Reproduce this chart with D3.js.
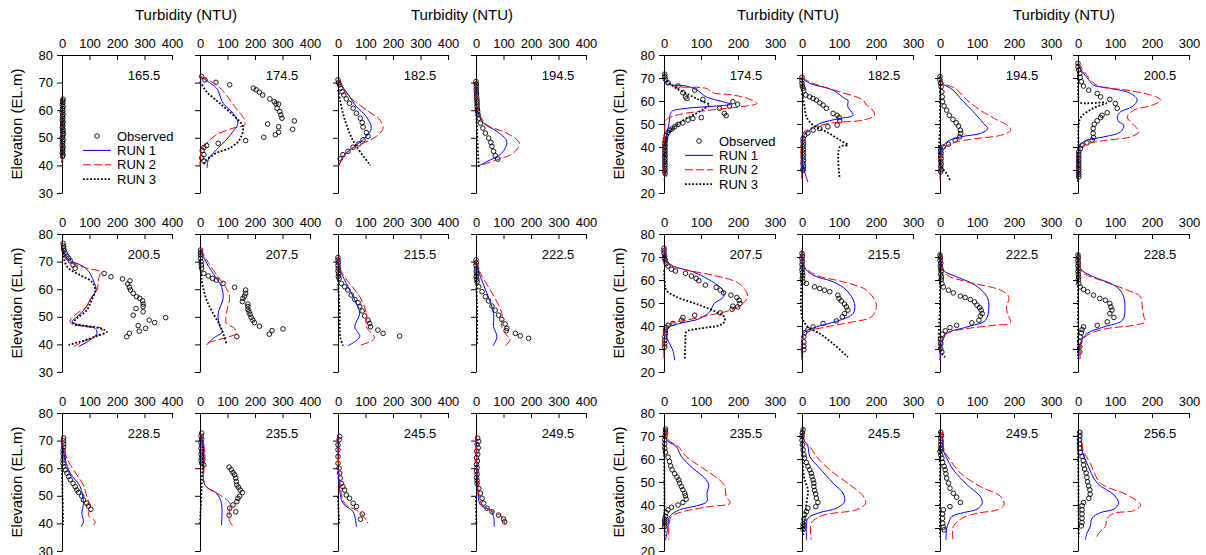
<!DOCTYPE html>
<html>
<head>
<meta charset="utf-8">
<script src="https://cdn.jsdelivr.net/npm/d3@7"></script>
<style>
  body { margin: 0; background: #fff; }
  svg { font-family: "Liberation Sans", Arial, sans-serif; }
</style>
</head>
<body>
<div id="chart"></div>
<script>
// ---------- Data: [turbidity NTU, elevation EL.m] ----------
// Left group (0-400 NTU, EL 30-80)
const obs_L165 = [[2,43.2],[4,43.8],[1,44.5],[3,45.2],[2,45.9],[4,46.6],[1,47.3],[3,48],[2,48.7],[4,49.4],[1,50.1],[3,50.8],[5,51.5],[2,52.2],[4,52.9],[1,53.6],[3,54.3],[2,55],[4,55.7],[1,56.4],[3,57.1],[2,57.8],[4,58.5],[1,59.2],[3,59.9],[2,60.6],[4,61.3],[1,62],[3,62.7],[2,63.4],[4,64]];
const run1_L165 = [[1,64],[2,58],[1,52],[2,47],[1,42]];
const run2_L165 = [[0,64],[1,56],[0,48],[1,43],[0,39.4]];
const run3_L165 = [[0,64],[1,55],[0,46],[1,41]];

const obs_L174 = [[6,72.2],[18,71],[58,70.1],[108,69.2],[194,68],[204,67.4],[216,66.5],[228,65.5],[254,64.1],[270,63.1],[276,62.3],[286,62.2],[280,60.7],[290,59.5],[294,58.3],[298,57.1],[343,56.1],[246,55],[286,54],[337,53.1],[286,52],[274,51.1],[232,50.2],[166,49],[66,48],[24,47.2],[14,46.5],[8,45.4],[14,43.9],[6,42.7],[14,41.6]];
const run1_L174 = [[0,72.2],[60,68],[72,65.5],[84,62.5],[120,58.9],[138,55.3],[120,52.3],[96,49.3],[60,45.7],[30,42],[26,39]];
const run2_L174 = [[0,72.4],[60,69.2],[96,65.5],[126,61.3],[162,56.5],[162,54.7],[120,53.5],[60,51.1],[24,48],[6,45.7],[0,42],[0,39.6]];
const run3_L174 = [[0,70.4],[24,66.7],[72,62.5],[132,57.1],[156,54.1],[144,49.3],[108,46.3],[60,44.5],[24,42],[12,40.2]];

const obs_L182 = [[0,71],[2,70],[6,69.2],[10,68],[15,66.7],[21,65.5],[30,64.1],[42,62.5],[55,60.7],[67,58.9],[81,57.1],[88,55.5],[91,53.9],[103,51.9],[109,50.5],[91,49.3],[76,47.8],[55,46.6],[36,45.1],[18,43.9],[8,42.4]];
const run1_L182 = [[0,70.4],[30,66.7],[67,61.3],[103,57.7],[121,53.5],[103,50.5],[61,46.9],[24,43.9],[2,39.6]];
const run2_L182 = [[0,71],[42,64.9],[103,60.1],[152,56.5],[164,53.5],[139,50.5],[91,48],[42,45.7],[18,42.6],[0,39.6]];
const run3_L182 = [[0,67.4],[18,58.9],[42,51.7],[67,46.9],[118,40]];

const obs_L194 = [[0,70.4],[1,69.5],[1,68.6],[1,67.6],[1,66.7],[2,65.8],[2,64.9],[3,64],[4,63.1],[4,62.2],[4,61.3],[5,60.4],[6,59.5],[8,58.3],[10,57.1],[16,55.3],[25,53.5],[34,51.7],[46,49.9],[54,48.3],[58,46.9],[64,45.1],[70,43.5],[79,42.3]];
const run1_L194 = [[0,70.4],[4,60.1],[28,55.3],[76,52.3],[112,48.7],[94,44.5],[40,41.4],[4,39.6]];
const run2_L194 = [[0,70.4],[6,60.1],[40,54.7],[112,51.7],[158,48],[136,44.5],[76,42],[16,40],[4,39.6]];
const run3_L194 = [[0,63.7],[4,51.7],[10,39.6]];

const obs_L200 = [[4,76.6],[6,75.6],[6,74.8],[8,74],[12,73],[18,72],[24,71.2],[30,70.3],[40,68.8],[48,67.6],[153,65.7],[178,64.5],[220,63.7],[247,63],[239,61.9],[245,60.7],[249,59.7],[259,58.5],[271,57.3],[283,56.7],[293,55.8],[295,54.6],[295,53.7],[269,53],[295,51.8],[259,50.6],[317,48.8],[377,49.7],[337,47.9],[277,46.8],[304,45.8],[281,44.8],[245,44],[235,42.8]];
const run1_L200 = [[0,76.6],[18,71.2],[78,68.2],[102,65.7],[118,62.1],[124,59.7],[102,56.1],[84,53],[54,50],[36,48.2],[66,47],[120,45.8],[127,44],[102,41.6],[60,39.2]];
const run2_L200 = [[0,76.6],[18,70.6],[90,67.6],[139,66.3],[133,63.9],[127,59.7],[108,57.3],[90,53.7],[54,51.2],[30,48.8],[33,47.6],[90,46.4],[145,45.8],[139,44],[90,41.6],[42,39.2]];
const run3_L200 = [[0,76],[18,68.2],[66,65.1],[108,62.7],[121,59.7],[108,56.1],[90,52.4],[54,49.4],[40,47.6],[78,46.8],[139,45.8],[163,44.6],[121,42.8],[66,41],[24,39.8]];

const obs_L207 = [[2,74.2],[2,73.2],[2,72.4],[2,71.2],[4,70],[5,68.8],[6,67.6],[14,65.7],[30,64.8],[46,63.9],[60,63.3],[84,62.1],[126,60.7],[166,59.7],[166,58.5],[162,57.5],[156,56.7],[154,55.5],[174,54.6],[174,53.7],[174,52.7],[178,51.8],[182,50.9],[186,49.8],[192,48.8],[198,47.9],[216,46.6],[302,45.6],[262,45],[252,43.7],[134,42.8]];
const run1_L207 = [[2,74.8],[18,70.6],[48,65.7],[78,60.9],[84,56.7],[66,51.2],[72,46.4],[82,44.6],[48,42.2],[24,39.8]];
const run2_L207 = [[2,74.8],[24,70.6],[66,64.5],[96,60.3],[108,57.3],[96,51.2],[96,47.6],[126,45.8],[132,44],[84,42.2],[30,40.4],[24,39.2]];
const run3_L207 = [[0,70.6],[6,63.3],[24,56.1],[48,51.2],[72,47],[84,44],[96,40.4]];

const obs_L215 = [[0,71.5],[0,70.6],[1,69.6],[0,68.6],[1,67.6],[0,66.6],[2,65.6],[1,64.6],[4,63.9],[12,62.1],[24,60.9],[36,59.7],[48,57.9],[61,56.3],[73,55.1],[79,53.7],[88,52.1],[97,50.3],[109,48.8],[115,47.6],[118,46.4],[145,45.2],[164,44],[224,43]];
const run1_L215 = [[0,71.5],[6,67.6],[30,62.1],[61,56.1],[79,51.2],[61,46.4],[79,42.8],[36,39.5]];
const run2_L215 = [[0,71.5],[12,66.3],[42,62.1],[79,57.3],[103,51.2],[103,46.4],[133,42.2],[73,39.5]];
const run3_L215 = [[0,63.3],[6,51.2],[8,42.8],[18,39.5]];

const obs_L222 = [[0,70.6],[1,69.6],[0,68.6],[2,67.6],[1,66.6],[2,65.6],[1,64.6],[3,63.6],[4,62.7],[10,60.9],[22,59.1],[34,57.3],[46,55.7],[58,53.9],[70,52.4],[82,50.6],[94,49],[106,47.4],[112,45.8],[110,45],[143,44],[161,43.1],[191,42.2]];
const run1_L222 = [[0,70.6],[16,64.5],[40,58.5],[64,51.2],[64,46.4],[76,42.8],[62,39.5]];
const run2_L222 = [[0,70.6],[16,65.7],[52,59.7],[94,51.2],[94,46.4],[106,44],[124,41.6],[106,39.5]];
const run3_L222 = [[0,65.7],[4,51.2],[4,39.5]];

const obs_L228 = [[6,70.9],[6,69.9],[6,68.8],[6,67.6],[4,66.4],[4,65.2],[6,64],[4,63],[4,61.8],[6,60.6],[12,59.4],[18,58.2],[24,57],[30,55.8],[40,54.5],[48,53.3],[54,52.1],[60,51.2],[72,49.9],[78,48.5],[90,47.3],[96,46.3],[105,45.1]];
const run1_L228 = [[0,70.3],[12,63],[30,58.2],[66,53.3],[78,47.3],[72,43.6],[78,40.6],[69,38.8]];
const run2_L228 = [[0,70.3],[18,63.6],[54,57.6],[78,53.9],[90,49.7],[102,46.1],[96,43],[121,40.6],[114,39.4]];
const run3_L228 = [[0,59.4],[2,50],[4,39.4]];

const obs_L235 = [[6,72.7],[4,71.6],[6,70.5],[4,69.4],[6,68.3],[4,67.2],[6,66.1],[4,65],[6,63.9],[4,62.8],[6,61.8],[14,61.2],[106,60.4],[114,59.4],[120,58.4],[126,57.6],[130,56.4],[132,55.2],[134,53.9],[140,53.1],[146,52.1],[154,51.2],[144,49.9],[138,49.1],[134,47.9],[120,46.7],[108,45.5],[130,44.2],[106,43]];
const run1_L235 = [[2,72.7],[14,65.5],[18,53.9],[60,50.9],[78,47.3],[78,39.4]];
const run2_L235 = [[2,72.7],[18,65.5],[18,53.9],[72,50.3],[108,47.3],[108,44.8],[106,41.2],[120,39]];
const run3_L235 = [[12,67.9],[6,53.3],[0,39.4]];

const obs_L245 = [[6,71.5],[4,70.3],[0,68.5],[0,66.7],[0,64.2],[0,61.8],[4,60],[6,58.2],[8,56.4],[12,54.5],[18,53.3],[24,52.1],[30,50.3],[42,49.1],[55,47.3],[67,46.1],[88,43.4],[82,41.5]];
const run1_L245 = [[0,72],[4,54.5],[18,47.3],[55,44.2],[67,38.8]];
const run2_L245 = [[0,72],[6,55.8],[24,47.3],[67,44.8],[85,43.6],[109,40]];
const run3_L245 = [[0,49.7],[4,39.4]];

const obs_L249 = [[6,70.9],[10,69.7],[4,68.6],[8,67.4],[3,66.2],[6,65],[2,63.8],[5,62.6],[2,61.4],[4,60.2],[2,59],[4,57.8],[2,56.6],[4,55.5],[4,54.5],[10,52.7],[16,50.9],[22,49.1],[28,47.3],[40,45.5],[58,44.2],[82,43],[100,41.6],[104,40.6]];
const run1_L249 = [[0,72],[6,54.5],[16,46.7],[52,44.8],[64,42.4],[66,38.8]];
const run2_L249 = [[0,72],[6,55.8],[22,46.7],[64,44.2],[94,42.4],[106,39.4]];
const run3_L249 = [[0,49.7],[1,39.4]];

// Right group (0-300 NTU, EL 20-80)
const obs_R174 = [[2,71.7],[2,70.6],[4,69.4],[11,67.9],[38,66.5],[83,64.7],[51,63.6],[58,61.8],[62,61.1],[105,60.7],[186,59.7],[199,58.6],[177,57.8],[150,56.8],[163,54.6],[168,53.6],[101,52.8],[78,52.4],[65,51.7],[51,50.5],[38,49.8],[29,48.8],[22,47.9],[15,47.3],[11,46.3],[6,45.1],[4,43.7],[3,42.5],[2,41.5],[3,40.5],[2,39.5],[3,38.5],[2,37.5],[3,36.5],[2,35.5],[3,34.5],[2,33.5],[3,32.5],[2,31.5],[3,30.5],[2,29.5],[3,28.5]];
const run1_R174 = [[0,70.6],[6,67.7],[60,66.5],[87,65],[114,61.8],[159,59.7],[181,58.6],[141,57.8],[60,56.8],[20,55.3],[15,51.7],[11,48],[4,42.9],[2,31.3],[6,27]];
const run2_R174 = [[0,71],[20,66.9],[114,65.5],[132,63.6],[186,62.6],[226,61.1],[251,58.9],[222,57.8],[123,56],[33,53.8],[6,51.7],[2,45.9],[0,25.5]];
const run3_R174 = [[0,70],[15,67.7],[33,65.5],[69,62.6],[96,60.4],[123,58.2],[110,56.8],[87,54.6],[60,52.4],[33,49.5],[15,46.6],[6,42.9],[2,31.3]];

const obs_R182 = [[0,70.3],[0,69.1],[0,67.7],[1,66.5],[3,65.5],[5,64.5],[10,62.6],[21,61.8],[30,61.1],[39,60.4],[48,59.2],[57,58.2],[66,56.8],[84,54.6],[95,53.8],[100,52.8],[102,51.4],[95,49.5],[70,48.8],[48,48],[30,47.3],[16,46.1],[7,45.1],[3,43.7],[3,42.5],[4,41.3],[3,40.1],[4,38.9],[3,37.7],[4,36.5],[3,35.3],[4,34.1],[3,32.9],[4,31.7],[3,30.5],[3,29.9]];
const run1_R182 = [[0,70],[21,67.7],[84,64.7],[115,61.1],[124,60.4],[124,57.5],[138,53.8],[102,52.4],[48,50.2],[21,47.3],[3,44.4],[0,34.2],[7,29.2],[16,24.8]];
const run2_R182 = [[0,70],[30,67.7],[102,64],[165,60.4],[174,58.2],[183,57.5],[196,53.8],[165,51.7],[84,50.5],[21,48],[3,45.9],[0,25.5]];
const run3_R182 = [[0,63.3],[7,57.5],[12,53.1],[30,49.5],[66,46.6],[102,43],[124,40.8],[102,40],[102,26.2]];

const obs_R194 = [[0,70.6],[0,69.1],[2,67.7],[3,66.2],[5,64],[6,61.8],[7,59.7],[11,57.8],[18,56],[25,53.8],[35,52],[44,50.5],[50,49.1],[55,47.3],[56,45.9],[53,44.4],[41,43],[23,41.2],[9,40],[2,38.6],[3,37.4],[2,36.2],[3,35],[2,33.8],[3,32.6],[2,31.4],[3,30.2],[2,29.2]];
const run1_R194 = [[0,70.6],[7,67.7],[36,64.7],[59,60.4],[86,56],[118,50.2],[129,48],[109,45.9],[55,44.4],[18,42.2],[5,39.3],[0,34.2],[0,28.4]];
const run2_R194 = [[0,70.6],[9,67.7],[41,65.5],[73,60.4],[109,56],[155,51.7],[182,49.5],[191,47.3],[164,45.1],[100,43.7],[45,42.2],[14,40],[2,35.7],[0,25.5]];
const run3_R194 = [[0,70.6],[0,50],[0,32.8],[18,28.4],[27,25.5]];

const obs_R200 = [[0,76.4],[0,74.9],[2,73.5],[5,72],[6,70.3],[9,68.4],[15,66.5],[29,64.7],[52,63.3],[61,61.8],[86,60.7],[101,58.9],[106,56.8],[79,54.9],[65,53.8],[61,52.8],[52,51.4],[44,49.9],[41,48],[41,45.9],[42,44.1],[38,43],[24,41.8],[11,40.8],[6,39.3],[2,37.9],[2,36.8],[2,35.7],[2,34.6],[2,33.5],[2,32.4],[2,31.3],[2,30.2],[2,29.2],[2,28.1],[2,27]];
const run1_R200 = [[0,76.4],[6,74.2],[33,68.4],[42,66.9],[88,65.5],[142,63.3],[160,60.4],[146,57.5],[115,55.3],[106,53.1],[111,50.9],[124,49.5],[115,46.6],[70,44.4],[24,43],[6,40.8],[0,34.2],[0,24.8]];
const run2_R200 = [[0,76.4],[11,74.2],[38,68.4],[61,66.2],[133,64.7],[196,62.6],[224,60.4],[201,58.2],[151,56],[133,53.1],[151,49.5],[165,46.6],[142,44.4],[79,43],[29,41.5],[6,39.3],[0,34.2],[0,24.8]];
const run3_R200 = [[0,76],[1,62],[3,59.5],[76,59.2],[40,56.8],[8,53],[2,50],[1,40],[0,25]];

const obs_R207 = [[0,73.8],[0,72.7],[0,71.6],[2,70.4],[2,69.4],[4,68.4],[6,67.2],[11,66.1],[20,64.7],[31,63.9],[58,62.9],[74,61.7],[87,60.7],[94,59.7],[112,57.8],[141,56.8],[152,55.6],[161,54.4],[181,53.4],[197,52.4],[203,51.2],[205,49.8],[199,48.3],[186,48.6],[184,47.3],[152,45.7],[83,44.7],[51,43.7],[47,42.5],[24,41.1],[11,40.3],[6,39.3],[4,38.2],[4,36.7],[2,35.3],[2,33.8],[2,32.3],[2,30.9]];
const run1_R207 = [[2,74.5],[6,68.7],[24,66.1],[78,63.6],[123,60],[159,55.6],[161,52.7],[136,49.8],[123,46.1],[96,43.2],[51,41.4],[15,39.6],[6,36.7],[15,32.3],[24,29.4],[29,25.1]];
const run2_R207 = [[2,74.5],[11,67.2],[51,64.7],[132,62.1],[195,59.2],[217,56.3],[226,52.7],[213,49.8],[186,47.2],[123,44.7],[60,42.5],[20,41.1],[4,38.2],[0,25.1]];
const run3_R207 = [[0,64.3],[2,59.2],[6,55.6],[33,52.7],[96,49.1],[141,46.1],[163,44],[163,41.8],[150,40.3],[96,38.9],[60,37.4],[58,33.8],[56,25.1]];

const obs_R215 = [[0,71.6],[1,70.4],[0,69.2],[1,68],[0,66.8],[1,65.6],[0,64.4],[1,63.2],[2,62],[1,60.8],[3,59.2],[12,58.5],[34,57],[48,56.3],[61,55.6],[75,54.9],[97,53.4],[100,52],[106,50.9],[115,49.5],[120,48.3],[124,46.9],[115,45.4],[109,44],[93,42.2],[57,41.1],[30,39.6],[16,38.4],[7,37],[5,35.3],[5,33.1],[5,31.2],[5,29.7]];
const run1_R215 = [[0,73],[5,65.8],[30,62.1],[84,59.2],[120,55.6],[142,49.8],[138,45.4],[102,42.5],[39,39.6],[7,37.4],[0,33.8],[0,25.1]];
const run2_R215 = [[0,73],[7,65.8],[39,62.1],[111,59.2],[174,55.6],[201,49.1],[188,44],[138,41.8],[66,39.6],[16,37.4],[0,33.8],[0,25.1]];
const run3_R215 = [[0,62.9],[0,44],[16,39.6],[48,36.7],[84,32.3],[124,26.5]];

const obs_R222 = [[0,70.9],[1,69.7],[0,68.5],[2,67.3],[1,66.1],[2,64.9],[3,63.7],[2,62.5],[4,61.3],[3,60.1],[5,58.5],[9,57],[23,55.6],[36,54.4],[55,53],[68,52.4],[82,51.5],[93,50.5],[100,49.1],[107,48],[111,46.9],[114,45.4],[109,44.3],[105,42.5],[86,41.4],[45,40.3],[27,39.3],[14,37.9],[6,36.4],[2,34.5],[2,32.3],[2,30.2],[5,28.7]];
const run1_R222 = [[2,71.6],[9,64.3],[45,61.4],[95,57.8],[127,52.7],[132,48.3],[123,42.5],[73,39.6],[18,36.7],[5,32.3],[0,25.1]];
const run2_R222 = [[2,71.6],[14,62.9],[73,59.2],[164,55.6],[186,52.7],[180,48.3],[182,45.4],[191,41.4],[145,40.3],[73,38.9],[27,37.4],[5,35.3],[0,25.1]];
const run3_R222 = [[0,71.6],[0,50],[0,29.4],[14,26.5]];

const obs_R228 = [[0,70.9],[1,69.7],[0,68.5],[1,67.3],[0,66.1],[1,64.9],[0,63.7],[1,62.5],[2,61.3],[1,60.1],[2,58.5],[6,57],[15,55.9],[26,54.9],[42,53.4],[59,52],[74,51.2],[86,49.8],[89,48.3],[92,46.9],[86,45.4],[97,43.7],[79,41.8],[52,40.3],[15,39.6],[11,38.4],[9,37],[6,35.3],[5,33.1],[5,30.9],[5,28.7]];
const run1_R228 = [[2,71.6],[6,65],[42,61.4],[97,57.8],[120,54.1],[127,48.3],[120,42.5],[70,39.6],[24,36.7],[6,32.3],[2,25.1]];
const run2_R228 = [[2,71.6],[11,63.6],[61,59.9],[133,55.6],[169,52.7],[174,47.6],[178,44],[182,41.8],[151,40.3],[79,38.9],[33,36.7],[11,33.8],[6,25.1]];
const run3_R228 = [[0,71.6],[0,50],[0,25.8]];

const obs_R235 = [[4,73],[4,71.6],[3,70.1],[2,68.4],[2,66.6],[2,64.7],[4,62.9],[11,60.8],[15,58.9],[18,57],[22,55.3],[29,53.6],[35,52.1],[40,50.9],[42,49.5],[47,48],[51,46.6],[56,45.1],[58,44],[60,42.5],[51,41.1],[38,40],[20,39],[11,37.9],[6,36.7],[4,35],[2,33.8],[2,32.8],[2,31.7],[2,30.6]];
const run1_R235 = [[6,73.5],[6,68.4],[33,65.5],[47,61.1],[78,56],[110,51.7],[121,48.8],[116,45.1],[116,41.5],[87,39.6],[42,37.9],[15,35],[11,30.6],[4,24.8]];
const run2_R235 = [[6,73.5],[11,68.4],[38,65.5],[60,61.1],[105,56],[159,49.5],[166,46.6],[168,43.7],[179,40.8],[123,39.3],[51,37.1],[20,35],[13,30.6],[13,24.8]];
const run3_R235 = [[0,72.7],[1,50],[2,26.2]];

const obs_R245 = [[3,72.7],[1,71.3],[0,69.8],[0,68.1],[1,66.2],[3,64],[5,61.8],[7,60.4],[12,58.5],[16,56.8],[21,55.3],[25,53.8],[27,52.4],[30,50.9],[32,49.5],[32,48],[34,46.3],[37,44.8],[39,43],[43,41.1],[37,39.3],[16,38.6],[12,37.1],[7,35.7],[5,33.8],[3,31.8],[3,30.6],[3,29.4]];
const run1_R245 = [[3,73.5],[5,68.4],[16,65.5],[21,61.1],[48,56],[84,49.5],[111,45.1],[115,41.5],[93,38.6],[48,36.7],[16,34.2],[12,30.6],[12,24.8]];
const run2_R245 = [[3,73.5],[7,67.7],[21,65.5],[39,61.1],[75,55.3],[129,48.8],[165,44],[172,40.8],[147,37.9],[84,36.4],[48,35],[25,32.1],[25,24.8]];
const run3_R245 = [[0,72.7],[5,52.4],[16,46.6],[12,40.8],[7,33.5],[3,26.2]];

const obs_R249 = [[2,71.6],[4,70.3],[2,69],[3,67.7],[2,66.4],[3,65.1],[2,64.2],[0,63.3],[2,61.8],[5,60.4],[7,58.5],[11,56.8],[14,55.3],[16,53.6],[18,51.7],[23,49.5],[27,47.3],[36,45.1],[45,43.4],[55,41.1],[27,39.3],[9,37.9],[7,36.1],[7,34.2],[7,32.1],[9,30.3],[11,29.2]];
const run1_R249 = [[7,72],[9,64],[18,60.4],[36,55.3],[73,48.8],[109,43.7],[114,40.8],[100,38.2],[64,36.7],[32,35],[23,32.1],[18,29.9],[16,24.8]];
const run2_R249 = [[7,72],[11,64],[27,59.7],[55,53.9],[109,48],[164,43.7],[173,40],[155,37.9],[100,36.4],[59,34.2],[36,30.6],[35,24.8]];
const run3_R249 = [[0,72],[0,50],[0,26.2]];

const obs_R256 = [[5,71.6],[5,70.1],[4,68.4],[4,66.6],[5,64.7],[6,62.9],[11,61.1],[14,59.3],[15,57.4],[18,55.6],[22,53.9],[24,52],[26,50.1],[29,48.3],[32,46.6],[33,44.7],[29,42.9],[15,41.1],[11,39.7],[11,37.9],[11,36.1],[11,34.2],[11,32.4],[9,30.9]];
const run1_R256 = [[9,72],[11,64],[24,58.2],[52,49.5],[97,44.4],[110,40.8],[97,38.2],[61,36.7],[38,34.2],[33,30.6],[24,27.7],[20,24.8]];
const run2_R256 = [[9,72],[14,64],[33,58.2],[61,49.5],[133,44.4],[169,40],[151,37.6],[97,36.4],[79,34.2],[74,30.6],[56,27.7],[47,24.8]];
const run3_R256 = [[0,72],[1,50],[2,26.2]];

// Station labels
const leftStations = ["165.5","174.5","182.5","194.5","200.5","207.5","215.5","222.5","228.5","235.5","245.5","249.5"];
const rightStations = ["174.5","182.5","194.5","200.5","207.5","215.5","222.5","228.5","235.5","245.5","249.5","256.5"];

const leftSeries = [
  [obs_L165, run1_L165, run2_L165, run3_L165],
  [obs_L174, run1_L174, run2_L174, run3_L174],
  [obs_L182, run1_L182, run2_L182, run3_L182],
  [obs_L194, run1_L194, run2_L194, run3_L194],
  [obs_L200, run1_L200, run2_L200, run3_L200],
  [obs_L207, run1_L207, run2_L207, run3_L207],
  [obs_L215, run1_L215, run2_L215, run3_L215],
  [obs_L222, run1_L222, run2_L222, run3_L222],
  [obs_L228, run1_L228, run2_L228, run3_L228],
  [obs_L235, run1_L235, run2_L235, run3_L235],
  [obs_L245, run1_L245, run2_L245, run3_L245],
  [obs_L249, run1_L249, run2_L249, run3_L249]
];
const rightSeries = [
  [obs_R174, run1_R174, run2_R174, run3_R174],
  [obs_R182, run1_R182, run2_R182, run3_R182],
  [obs_R194, run1_R194, run2_R194, run3_R194],
  [obs_R200, run1_R200, run2_R200, run3_R200],
  [obs_R207, run1_R207, run2_R207, run3_R207],
  [obs_R215, run1_R215, run2_R215, run3_R215],
  [obs_R222, run1_R222, run2_R222, run3_R222],
  [obs_R228, run1_R228, run2_R228, run3_R228],
  [obs_R235, run1_R235, run2_R235, run3_R235],
  [obs_R245, run1_R245, run2_R245, run3_R245],
  [obs_R249, run1_R249, run2_R249, run3_R249],
  [obs_R256, run1_R256, run2_R256, run3_R256]
];

const leftXTicks = [0, 100, 200, 300, 400];
const rightXTicks = [0, 100, 200, 300];
const leftYTicks = [30, 40, 50, 60, 70, 80];
const rightYTicks = [20, 30, 40, 50, 60, 70, 80];
const legendLabels = ["Observed", "RUN 1", "RUN 2", "RUN 3"];

// ---------- Layout ----------
const width = 1206;
const height = 555;
const panelW = 110;
const panelH = 138;
const rowTops = [55, 234, 413];
const leftCols = [62, 200, 338, 476];
const rightCols = [664, 802, 940, 1078];
const font = "'Liberation Sans', Arial, sans-serif";

const runStyles = [
  { color: "#0000ff", dash: null, width: 1 },
  { color: "#ff0000", dash: "8,3", width: 1 },
  { color: "#000000", dash: "1.8,1.8", width: 1.8 }
];

const svg = d3.select("#chart").append("svg")
  .attr("width", width)
  .attr("height", height);

function drawGroup(cols, xDomain, xTicks, yDomain, yTicks, stations, series, legendPos) {
  const x = d3.scaleLinear().domain(xDomain).range([0, panelW + (xDomain[1] === 300 ? 1 : 0)]);
  const y = d3.scaleLinear().domain(yDomain).range([panelH, 0]);
  const line = d3.line()
    .x((d) => x(d[0]))
    .y((d) => y(d[1]))
    .curve(d3.curveCatmullRom.alpha(0.5));

  stations.forEach((st, i) => {
    const row = Math.floor(i / 4);
    const col = i % 4;
    const g = svg.append("g")
      .attr("transform", `translate(${cols[col]},${rowTops[row]})`);

    // top x-axis, ticks pointing down
    const xa = g.append("g")
      .call(d3.axisTop(x).tickValues(xTicks).tickSizeInner(-5).tickSizeOuter(0).tickPadding(7));
    // left y-axis
    const ya = g.append("g")
      .call(d3.axisLeft(y).tickValues(yTicks).tickSizeInner(5).tickSizeOuter(0).tickPadding(4)
        .tickFormat(col === 0 ? d3.format("d") : () => ""));
    [xa, ya].forEach((a) => {
      a.attr("font-family", font).attr("font-size", 13);
      a.selectAll("text").attr("fill", "#000");
      a.selectAll("line, path").attr("stroke", "#000").attr("stroke-width", 1);
    });

    // station label
    g.append("text")
      .attr("x", 82)
      .attr("y", 25)
      .attr("text-anchor", "middle")
      .attr("font-family", font)
      .attr("font-size", 13)
      .text(st);

    const [obs, r1, r2, r3] = series[i];

    // observed circles
    g.selectAll("circle.obs")
      .data(obs)
      .enter()
      .append("circle")
      .attr("class", "obs")
      .attr("cx", (d) => x(d[0]))
      .attr("cy", (d) => y(d[1]))
      .attr("r", 2.3)
      .attr("fill", "none")
      .attr("stroke", "#000")
      .attr("stroke-width", 0.9);

    // model runs
    [r1, r2, r3].forEach((run, k) => {
      const s = runStyles[k];
      g.append("path")
        .datum(run)
        .attr("d", line)
        .attr("fill", "none")
        .attr("stroke", s.color)
        .attr("stroke-width", s.width)
        .attr("stroke-dasharray", s.dash);
    });
  });

  // legend in first panel
  const lg = svg.append("g").attr("transform", `translate(${legendPos[0]},${legendPos[1]})`);
  legendLabels.forEach((lab, k) => {
    const yy = k * 14.4;
    if (k === 0) {
      lg.append("circle").attr("cx", 14).attr("cy", yy).attr("r", 2.3)
        .attr("fill", "none").attr("stroke", "#000").attr("stroke-width", 0.9);
    } else {
      const s = runStyles[k - 1];
      lg.append("line").attr("x1", 0).attr("x2", 28).attr("y1", yy).attr("y2", yy)
        .attr("stroke", s.color).attr("stroke-width", s.width).attr("stroke-dasharray", s.dash);
    }
    lg.append("text").attr("x", 34).attr("y", yy).attr("dy", "0.35em")
      .attr("font-family", font).attr("font-size", 13).text(lab);
  });
}

drawGroup(leftCols, [0, 400], leftXTicks, [30, 80], leftYTicks, leftStations, leftSeries, [83, 136]);
drawGroup(rightCols, [0, 300], rightXTicks, [20, 80], rightYTicks, rightStations, rightSeries, [685, 141]);

// axis titles
[186, 462, 788, 1064].forEach((cx) => {
  svg.append("text")
    .attr("x", cx).attr("y", 20)
    .attr("text-anchor", "middle")
    .attr("font-family", font).attr("font-size", 15)
    .text("Turbidity (NTU)");
});
[17, 619].forEach((cx) => {
  rowTops.forEach((top) => {
    svg.append("text")
      .attr("transform", `translate(${cx},${top + panelH / 2}) rotate(-90)`)
      .attr("text-anchor", "middle")
      .attr("dy", "0.35em")
      .attr("font-family", font).attr("font-size", 15)
      .text("Elevation (EL.m)");
  });
});
</script>
</body>
</html>
